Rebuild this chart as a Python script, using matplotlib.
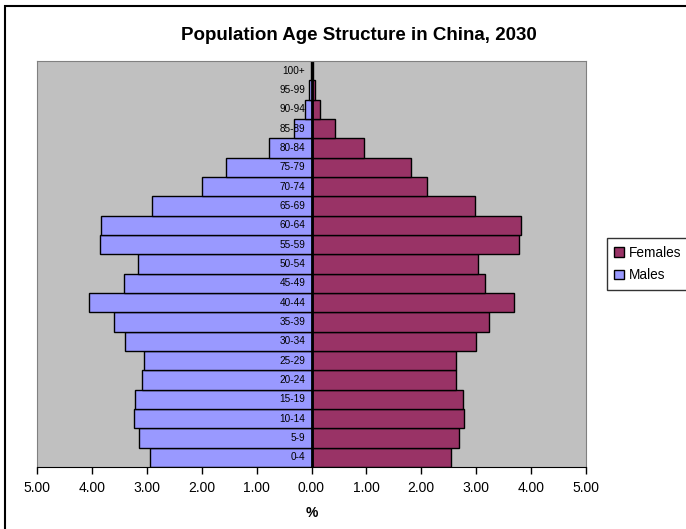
import numpy as np
import matplotlib.pyplot as plt
from matplotlib.patches import Rectangle
from matplotlib.ticker import FuncFormatter

plt.rcParams['font.family'] = ['Liberation Sans', 'DejaVu Sans']

ages = ['0-4', '5-9', '10-14', '15-19', '20-24', '25-29', '30-34', '35-39',
        '40-44', '45-49', '50-54', '55-59', '60-64', '65-69', '70-74',
        '75-79', '80-84', '85-89', '90-94', '95-99', '100+']
males = [2.95, 3.14, 3.24, 3.21, 3.09, 3.06, 3.40, 3.59, 4.05, 3.42, 3.16,
         3.86, 3.83, 2.90, 1.99, 1.55, 0.77, 0.31, 0.12, 0.05, 0.01]
females = [2.54, 2.68, 2.78, 2.76, 2.63, 2.63, 2.99, 3.24, 3.69, 3.16, 3.04,
           3.78, 3.81, 2.97, 2.10, 1.82, 0.96, 0.42, 0.16, 0.07, 0.02]

y = np.arange(len(ages))

fig = plt.figure(figsize=(6.86, 5.29), dpi=100)
ax = fig.add_axes([37 / 686, 1 - 467 / 529, 549 / 686, 406 / 529])
ax.set_facecolor('#C0C0C0')

ax.barh(y, females, height=1.0, color='#993366', edgecolor='black',
        linewidth=1.0, label='Females')
ax.barh(y, -np.array(males), height=1.0, color='#9999FF', edgecolor='black',
        linewidth=1.0, label='Males')

ax.axvline(0, color='black', linewidth=2)

for i, lab in enumerate(ages):
    ax.annotate(lab, xy=(0, i), xytext=(-4.5, 0), textcoords='offset points',
                ha='right', va='center', fontsize=7.2, color='black')

ax.set_xlim(-5, 5)
ax.set_ylim(-0.5, len(ages) - 0.5)
ax.set_xticks(np.arange(-5, 6, 1))
ax.xaxis.set_major_formatter(FuncFormatter(lambda v, p: '%.2f' % abs(v)))
ax.set_yticks([])
ax.tick_params(axis='x', direction='out', length=5, width=1, labelsize=10,
               pad=5, color='black')
for s in ['top', 'right', 'left']:
    ax.spines[s].set_color('#808080')
ax.spines['bottom'].set_color('black')

ax.set_xlabel('%', fontsize=10, fontweight='bold', labelpad=8)

fig.text(359 / 686, 1 - 35 / 529, 'Population Age Structure in China, 2030',
         ha='center', va='center', fontsize=13.5, fontweight='bold')

leg = ax.legend(loc='center left', bbox_to_anchor=(607 / 686, 1 - 264 / 529),
                bbox_transform=fig.transFigure, fontsize=9.8, frameon=True,
                fancybox=False, edgecolor='black', handlelength=0.7,
                handleheight=0.7, handletextpad=0.35, borderpad=0.55,
                labelspacing=0.65, borderaxespad=0)
leg.get_frame().set_linewidth(1)

fig.patches.append(Rectangle((5 / 686, -0.1), 1.2, 1.1 - 6 / 529,
                             transform=fig.transFigure, fill=False,
                             edgecolor='black', linewidth=1.5))

fig.savefig('out.png', dpi=100)
